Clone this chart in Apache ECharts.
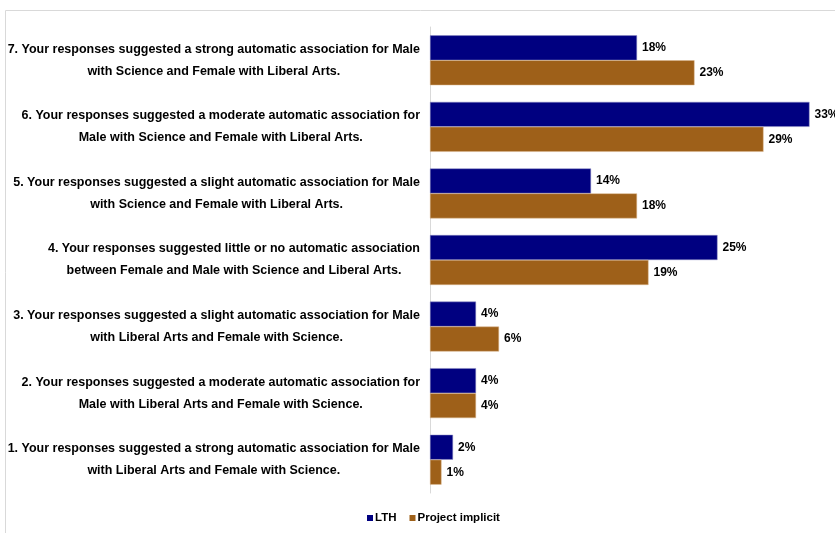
<!DOCTYPE html>
<html>
<head>
<meta charset="utf-8">
<script src="https://cdn.jsdelivr.net/npm/echarts@6/dist/echarts.min.js"></script>
<style>
  html, body { margin: 0; padding: 0; background: #fff; }
  #chart { width: 835px; height: 533px; }
</style>
</head>
<body>
<div id="chart"></div>
<script>
// categories, top to bottom
var categories = [
    '7. Your responses suggested a strong automatic association for Male\nwith Science and Female with Liberal Arts.',
    '6. Your responses suggested a moderate automatic association for\nMale with Science and Female with Liberal Arts.',
    '5. Your responses suggested a slight automatic association for Male\nwith Science and Female with Liberal Arts.',
    '4. Your responses suggested little or no automatic association\nbetween Female and Male with Science and Liberal Arts.',
    '3. Your responses suggested a slight automatic association for Male\nwith Liberal Arts and Female with Science.',
    '2. Your responses suggested a moderate automatic association for\nMale with Liberal Arts and Female with Science.',
    '1. Your responses suggested a strong automatic association for Male\nwith Liberal Arts and Female with Science.'
];
var lth = [18, 33, 14, 25, 4, 4, 2];
var projectImplicit = [23, 29, 18, 19, 6, 4, 1];

var font = "'Liberation Sans', Arial, sans-serif";

var chart = echarts.init(document.getElementById('chart'));

var labelStyle = {
    show: true,
    position: 'right',
    distance: 5,
    formatter: '{c}%',
    color: '#000',
    fontFamily: font,
    fontWeight: 'bold',
    fontSize: 12
};

chart.setOption({
    animation: false,
    graphic: [{
        type: 'rect',
        shape: { x: 5.5, y: 10.5, width: 900, height: 600 },
        style: { fill: 'none', stroke: '#d9d9d9', lineWidth: 1 },
        silent: true
    }],
    grid: { left: 430, right: 2.5, top: 27, bottom: 40, outerBoundsMode: 'none', containLabel: false },
    legend: {
        bottom: 4,
        left: 362,
        data: ['LTH', 'Project implicit'],
        icon: 'rect',
        itemWidth: 6,
        itemHeight: 6,
        itemGap: 13,
        itemStyle: { borderWidth: 0 },
        textStyle: { fontFamily: font, fontWeight: 'bold', fontSize: 11.5, color: '#000', padding: [0, 0, 0, -3] }
    },
    xAxis: {
        type: 'value',
        min: 0,
        max: 35,
        show: false
    },
    yAxis: {
        type: 'category',
        inverse: true,
        data: categories,
        axisLine: { lineStyle: { color: '#d9d9d9' } },
        axisTick: { show: false },
        axisLabel: {
            margin: 10,
            formatter: function (v) {
                return v.split('\n').map(function (l) { return '{c|' + l + '}'; }).join('\n');
            },
            rich: {
                c: {
                    align: 'center',
                    fontFamily: font,
                    fontWeight: 'bold',
                    fontSize: 12.5,
                    lineHeight: 22,
                    color: '#000'
                }
            }
        }
    },
    series: [
        {
            name: 'LTH',
            type: 'bar',
            data: lth,
            barGap: '0%',
            barCategoryGap: '25%',
            itemStyle: { color: '#000080', borderColor: '#8c8cc4', borderWidth: 0.5 },
            label: labelStyle
        },
        {
            name: 'Project implicit',
            type: 'bar',
            data: projectImplicit,
            barGap: '0%',
            barCategoryGap: '25%',
            itemStyle: { color: '#9e6019', borderColor: '#d8b58c', borderWidth: 0.5 },
            label: labelStyle
        }
    ]
});
</script>
</body>
</html>
